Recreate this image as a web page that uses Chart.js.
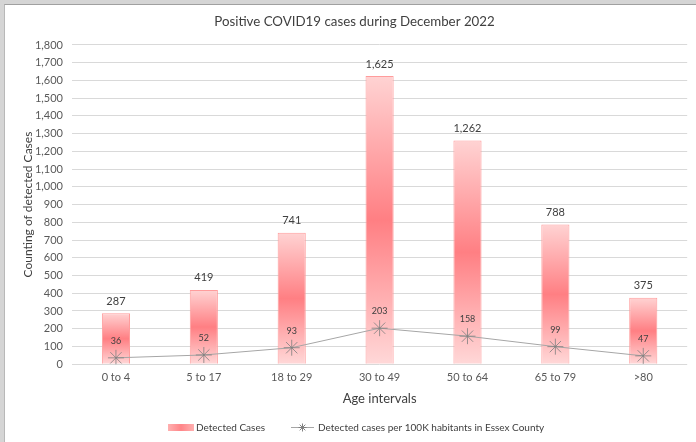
<!DOCTYPE html>
<html>
<head>
<meta charset="utf-8">
<script src="https://cdn.jsdelivr.net/npm/chart.js@4.4.0/dist/chart.umd.min.js"></script>
<style>
  html, body { margin: 0; padding: 0; }
  body { width: 696px; height: 442px; background: #d5d5d5; position: relative; overflow: hidden; }
  #frame { position: absolute; left: 4px; top: 4px; width: 692px; height: 438px; background: #fff;
           border-left: 1px solid #b8b8b8; border-top: 1px solid #a0a0a0; box-sizing: border-box; }
  #wrap { position: absolute; left: 0; top: 0; width: 691px; height: 437px; }
</style>
</head>
<body>
<div id="frame"><div id="wrap"><canvas id="casos"></canvas></div></div>
<script>
// Datos
var ageLabels = ["0 to 4", "5 to 17", "18 to 29", "30 to 49", "50 to 64", "65 to 79", ">80"];
var detectedCases = [287, 419, 741, 1625, 1262, 788, 375];
var casesPer100k = [36, 52, 93, 203, 158, 99, 47];

var fontFam = "Lato, 'Open Sans', 'DejaVu Sans', sans-serif";

// Degradado vertical para cada barra (claro-oscuro-claro)
function barGradient(context) {
  var chart = context.chart;
  var area = chart.chartArea;
  if (!area || context.type !== "data") return "#ff9a9a";
  var y = chart.scales.y;
  var top = y.getPixelForValue(context.raw);
  var bottom = y.getPixelForValue(0);
  var g = chart.ctx.createLinearGradient(0, top, 0, bottom);
  g.addColorStop(0, "#ffd3d3");
  g.addColorStop(0.5, "#ff7f83");
  g.addColorStop(1, "#ffd8d8");
  return g;
}

// Etiquetas de valores sobre barras y puntos
var valueLabels = {
  id: "valueLabels",
  afterDatasetsDraw: function (chart) {
    var ctx = chart.ctx;
    ctx.save();
    ctx.textAlign = "center";
    ctx.textBaseline = "middle";
    ctx.fillStyle = "#404040";
    chart.getDatasetMeta(0).data.forEach(function (bar, i) {
      ctx.font = "11px " + fontFam;
      ctx.fillText(detectedCases[i].toLocaleString("en-US"), bar.x, bar.y - 12);
    });
    chart.getDatasetMeta(1).data.forEach(function (pt, i) {
      ctx.font = "9px " + fontFam;
      ctx.fillText(casesPer100k[i], pt.x, pt.y - 17);
    });
    ctx.restore();
  }
};

// Leyenda dibujada a mano abajo
var bottomLegend = {
  id: "bottomLegend",
  afterDraw: function (chart) {
    var ctx = chart.ctx;
    var y = 422;
    ctx.save();
    var g = ctx.createLinearGradient(163, 0, 189, 0);
    g.addColorStop(0, "#ffb0b0");
    g.addColorStop(0.5, "#ff8588");
    g.addColorStop(1, "#ffb0b0");
    ctx.fillStyle = g;
    ctx.fillRect(163, y - 3, 26, 7);
    ctx.fillStyle = "#404040";
    ctx.font = "10px " + fontFam;
    ctx.textBaseline = "middle";
    ctx.fillText("Detected Cases", 191, y + 1);
    ctx.strokeStyle = "#a6a6a6";
    ctx.lineWidth = 1;
    ctx.beginPath();
    ctx.moveTo(286, y + 0.5);
    ctx.lineTo(309, y + 0.5);
    ctx.stroke();
    ctx.strokeStyle = "#808080";
    ctx.beginPath();
    for (var a = 0; a < 4; a++) {
      var ang = a * Math.PI / 4;
      ctx.moveTo(297.5 - 4 * Math.cos(ang), y + 0.5 - 4 * Math.sin(ang));
      ctx.lineTo(297.5 + 4 * Math.cos(ang), y + 0.5 + 4 * Math.sin(ang));
    }
    ctx.stroke();
    ctx.fillText("Detected cases per 100K habitants in Essex County", 313, y + 1);
    ctx.restore();
  }
};

var ctx = document.getElementById("casos").getContext("2d");
var chart = new Chart(ctx, {
  data: {
    labels: ageLabels,
    datasets: [
      {
        type: "bar",
        label: "Detected Cases",
        data: detectedCases,
        backgroundColor: barGradient,
        borderColor: "#ff9c9c",
        borderWidth: 1,
        barPercentage: 0.32,
        categoryPercentage: 1,
        order: 2
      },
      {
        type: "line",
        label: "Detected cases per 100K habitants in Essex County",
        data: casesPer100k,
        borderColor: "#a6a6a6",
        borderWidth: 1,
        pointStyle: "star",
        pointRadius: 8,
        pointBorderColor: "#7f7f7f",
        pointBorderWidth: 0.8,
        pointBackgroundColor: "#595959",
        tension: 0,
        order: 1
      }
    ]
  },
  options: {
    responsive: true,
    maintainAspectRatio: false,
    animation: false,
    layout: { padding: { left: 12, right: 4, top: 0, bottom: 35 } },
    plugins: {
      legend: { display: false },
      tooltip: { enabled: false },
      title: {
        display: true,
        text: "Positive COVID19 cases during December 2022",
        color: "#404040",
        font: { family: fontFam, size: 13.3, weight: "normal" },
        padding: { top: 9, bottom: 15 }
      }
    },
    scales: {
      x: {
        grid: { display: false, drawTicks: false },
        border: { display: false },
        ticks: { color: "#595959", font: { family: fontFam, size: 11 }, padding: 7 },
        title: {
          display: true,
          text: "Age intervals",
          color: "#404040",
          font: { family: fontFam, size: 13 },
          padding: { top: 0, bottom: 0 }
        }
      },
      y: {
        min: 0,
        max: 1800,
        afterFit: function (scale) { scale.width = 55; },
        ticks: {
          stepSize: 100,
          color: "#595959",
          font: { family: fontFam, size: 11 },
          padding: 9,
          callback: function (v) { return v.toLocaleString("en-US"); }
        },
        grid: { color: "#d9d9d9", drawTicks: false, lineWidth: 1 },
        border: { display: false },
        title: {
          display: true,
          text: "Counting of detected Cases",
          color: "#404040",
          font: { family: fontFam, size: 12 },
          padding: { top: 4, bottom: 4 }
        }
      }
    }
  },
  plugins: [valueLabels, bottomLegend]
});
</script>
</body>
</html>
